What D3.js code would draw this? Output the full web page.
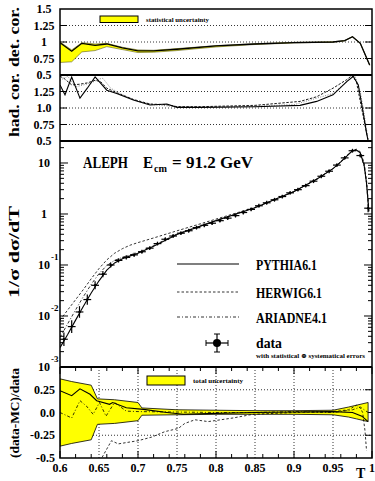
<!DOCTYPE html>
<html>
<head>
<meta charset="utf-8">
<script src="https://cdn.jsdelivr.net/npm/d3@7"></script>
<style>
body{margin:0;background:#fff}
svg{display:block}
text{font-family:"Liberation Serif","Times New Roman","DejaVu Serif",serif;font-weight:bold;fill:#000}
</style>
</head>
<body>
<svg id="chart" width="375" height="481"></svg>
<script>
// measured thrust distribution, bins of 0.01
var dataT = [0.605,0.615,0.625,0.635,0.645,0.655,0.665,0.675,0.685,0.695,
	0.705,0.715,0.725,0.735,0.745,0.755,0.765,0.775,0.785,0.795,
	0.805,0.815,0.825,0.835,0.845,0.855,0.865,0.875,0.885,0.895,
	0.905,0.915,0.925,0.935,0.945,0.955,0.965,0.975,0.985,0.995];
var dataVal = [0.0035,0.0062,0.012,0.021,0.040,0.066,0.100,0.123,0.141,0.158,
	0.182,0.214,0.263,0.32,0.37,0.42,0.47,0.54,0.60,0.66,
	0.74,0.83,0.93,1.07,1.23,1.45,1.66,1.9,2.2,2.6,
	3.0,3.6,4.4,5.5,6.9,9.1,12.6,17.4,14,1.3];
var dataErr = [0.35,0.33,0.30,0.26,0.20,0.15,0.12,0.10,0.10,0.10,
	0.09,0.09,0.09,0.09,0.09,0.09,0.09,0.09,0.09,0.09,
	0.09,0.09,0.09,0.09,0.09,0.09,0.09,0.09,0.09,0.09,
	0.09,0.09,0.09,0.09,0.09,0.09,0.09,0.09,0.09,0.2];

// MC predictions in the main panel
var mcT = [0.6,0.61,0.62,0.63,0.64,0.65,0.66,0.67,0.68,0.69,0.70,0.72,0.75,0.80,0.85,0.90,0.93,0.95,0.96,0.97,0.975,0.98,0.985,0.99,0.993,0.996];
var pythia = [0.0024,0.00437,0.0083,0.0155,0.0282,0.049,0.079,0.110,0.132,0.151,0.170,0.234,0.398,0.741,1.33,2.75,4.9,7.76,10.5,14.8,17.4,18.0,15.8,8.9,4.0,1.12];
var herwig = [0.0083,0.0132,0.0209,0.0331,0.0537,0.0851,0.126,0.170,0.209,0.245,0.275,0.339,0.468,0.794,1.35,2.75,4.9,7.76,10.5,15.1,17.8,18.6,16.6,10,4.5,1.26];
var ariadne = [0.0038,0.0071,0.0132,0.024,0.0417,0.0676,0.098,0.123,0.141,0.158,0.176,0.24,0.407,0.741,1.33,2.75,4.9,7.76,10.5,14.8,17.4,18.2,15.5,8.5,3.8,1.12];

// detector correction
var detT = [0.6,0.615,0.628,0.645,0.66,0.68,0.7,0.72,0.75,0.8,0.85,0.9,0.95,0.965,0.975,0.985,0.997];
var detLine = [0.99,0.86,0.98,0.95,0.97,0.91,0.865,0.865,0.89,0.94,0.97,0.99,1.0,1.02,1.08,0.98,0.65];
var detHi = [1.0,0.88,0.99,0.97,0.98,0.92,0.88,0.875,0.90,0.945,0.975,0.995,1.003,1.023,1.083,0.983,0.653];
var detLo = [0.69,0.70,0.85,0.87,0.93,0.885,0.84,0.845,0.87,0.925,0.962,0.985,0.997,1.017,1.077,0.977,0.647];

// hadronisation correction
var hadPyT = [0.6,0.6064,0.615,0.6256,0.635,0.645,0.66,0.6727,0.694,0.7154,0.737,0.75,0.78,0.85,0.9077,0.929,0.95,0.9676,0.976,0.9824,0.9889,0.993,0.996];
var hadPy = [1.35,1.20,1.47,1.15,1.30,1.47,1.27,1.22,1.12,1.045,1.06,1.01,1.01,1.02,1.04,1.10,1.20,1.40,1.48,1.35,0.92,0.62,0.45];
var hadHwT = [0.6,0.605,0.615,0.625,0.635,0.645,0.652,0.66,0.675,0.694,0.7154,0.737,0.75,0.78,0.85,0.9077,0.929,0.95,0.9676,0.974,0.98,0.985,0.99,0.996];
var hadHw = [1.48,1.45,1.35,1.36,1.38,1.42,1.40,1.30,1.22,1.13,1.06,1.05,1.02,1.02,1.04,1.10,1.17,1.30,1.43,1.49,1.40,1.10,0.80,0.45];
var hadArT = [0.6,0.61,0.62,0.63,0.64,0.65,0.655,0.665,0.68,0.7,0.72,0.75,0.8,0.9,0.95,0.97,0.978,0.985,0.99,0.996];
var hadAr = [1.42,1.48,1.32,1.35,1.38,1.44,1.45,1.30,1.20,1.10,1.05,1.02,1.01,1.05,1.22,1.42,1.49,1.25,0.90,0.45];

// (data-MC)/data
var bandT = [0.6,0.615,0.64,0.648,0.67,0.7,0.705,0.75,0.8,0.85,0.9,0.95,0.97,0.98,0.995];
var bandHi = [0.37,0.34,0.30,0.15,0.14,0.11,0.05,0.03,0.025,0.02,0.02,0.025,0.06,0.08,0.11];
var bandLo = [-0.37,-0.34,-0.30,-0.13,-0.12,-0.09,-0.03,-0.025,-0.02,-0.02,-0.02,-0.025,-0.05,-0.07,-0.10];
var ratPyT = [0.6,0.615,0.6256,0.6385,0.647,0.6635,0.6675,0.685,0.707,0.737,0.758,0.8,0.85,0.9,0.95,0.975,0.987,0.995];
var ratPy = [0.24,0.185,0.26,0.20,0.13,0.09,0.11,0.053,0.034,0.0,-0.02,-0.01,0.0,0.005,0.01,0.0,-0.04,-0.10];
var ratHwT = [0.645,0.6535,0.666,0.6747,0.6855,0.70,0.7176,0.7346,0.7517,0.76,0.773,0.79,0.822,0.847,0.9,0.95,0.97,0.98,0.985,0.988,0.991,0.993];
var ratHw = [-0.62,-0.50,-0.31,-0.345,-0.33,-0.31,-0.27,-0.21,-0.175,-0.12,-0.08,-0.10,-0.06,-0.02,0.0,0.01,0.03,0.08,0.05,0.0,-0.2,-0.42];
var ratArT = [0.6,0.615,0.6256,0.634,0.6425,0.6506,0.659,0.6699,0.685,0.7,0.75,0.8,0.85,0.9,0.95,0.975,0.985,0.995];
var ratAr = [0.0,-0.06,0.13,0.07,-0.02,0.11,-0.04,0.11,0.015,0.01,0.005,0.0,0.0,0.01,0.0,0.03,0.06,0.0];

// tick labels
var detTicks = [1.5,1.25,1,0.75,0.5];
var detTickText = ["1.5","1.25","1","0.75","0.5"];
var hadTicks = [1.25,1.0,0.75,0.5];
var hadTickText = ["1.25","1.0","0.75","0.5"];
var ratTicks = [0.25,0,-0.25,-0.5];
var ratTickText = ["0.25","0.0","-0.25","-0.5"];
var xTicks = [0.6,0.65,0.7,0.75,0.8,0.85,0.9,0.95,1];
var xTickText = ["0.6","0.65","0.7","0.75","0.8","0.85","0.9","0.95","1"];
var mainDecades = [10,1,0.1,0.01,0.001];
var mainBase = ["10","1","10","10","10"];
var mainSup = ["","","-1","-2","-3"];

var svg = d3.select("#chart");
var x = d3.scaleLinear().domain([0.6,1]).range([60,372]);
var yDet = d3.scaleLinear().domain([0.5,1.5]).range([75,9]);
var yHad = d3.scaleLinear().domain([0.5,1.5]).range([141,75]);
var yMain = d3.scaleLog().domain([1e-3,27]).range([367,141]);
var yRat = d3.scaleLinear().domain([-0.5,0.5]).range([458,367]);

var defs = svg.append("defs");
function makeClip(id, y){
	var r = y.range();
	defs.append("clipPath").attr("id", id).append("rect")
		.attr("x", x(0.6)).attr("width", x(1) - x(0.6))
		.attr("y", Math.min(r[0], r[1])).attr("height", Math.abs(r[0] - r[1]));
}
makeClip("cDet", yDet); makeClip("cHad", yHad); makeClip("cMain", yMain); makeClip("cRat", yRat);

function pairs(xs, ys){ return xs.map(function(t, i){ return [t, ys[i]]; }); }
function lineFor(y){ return d3.line().x(function(d){ return x(d[0]); }).y(function(d){ return y(d[1]); }); }
// text squeezed to the width it has in the original
function label(xx, yy, size, txt, len){
	var t = svg.append("text").attr("x", xx).attr("y", yy).attr("font-size", size).text(txt);
	if(len){ t.attr("textLength", len).attr("lengthAdjust", "spacingAndGlyphs"); }
	return t;
}
function hGrid(y, vals){
	svg.append("g").selectAll("line").data(vals).join("line")
		.attr("x1", x(0.6)).attr("x2", x(1))
		.attr("y1", function(d){ return y(d); }).attr("y2", function(d){ return y(d); })
		.attr("stroke", "#000").attr("stroke-width", 0.8).attr("stroke-dasharray", "1,2");
}
function sideTicks(y, vals, len){
	var g = svg.append("g");
	vals.forEach(function(v){
		g.append("line").attr("x1", x(0.6)).attr("x2", x(0.6) + len).attr("y1", y(v)).attr("y2", y(v)).attr("stroke", "#000");
		g.append("line").attr("x1", x(1)).attr("x2", x(1) - len).attr("y1", y(v)).attr("y2", y(v)).attr("stroke", "#000");
	});
}

// ---- det. cor. panel
hGrid(yDet, [1.25,1,0.75]);
sideTicks(yDet, [1.25,1,0.75], 7);
var gDet = svg.append("g").attr("clip-path", "url(#cDet)");
gDet.append("path")
	.attr("d", d3.area().x(function(d){ return x(d[0]); }).y0(function(d){ return yDet(d[2]); }).y1(function(d){ return yDet(d[1]); })(detT.map(function(t, i){ return [t, detHi[i], detLo[i]]; })))
	.attr("fill", "#ffff00").attr("stroke", "#5a5a20").attr("stroke-width", 0.6);
gDet.append("path").attr("d", lineFor(yDet)(pairs(detT, detLine)))
	.attr("fill", "none").attr("stroke", "#000").attr("stroke-width", 1.3);
svg.append("rect").attr("x", 100).attr("y", 16).attr("width", 38).attr("height", 6.5)
	.attr("fill", "#ffff00").attr("stroke", "#000").attr("stroke-width", 1);
label(146, 21.5, 7, "statistical uncertainty", 63);

// ---- had. cor. panel
hGrid(yHad, [1.25,1.0,0.75]);
sideTicks(yHad, [1.25,1.0,0.75], 7);
var gHad = svg.append("g").attr("clip-path", "url(#cHad)");
gHad.append("path").attr("d", lineFor(yHad)(pairs(hadArT, hadAr)))
	.attr("fill", "none").attr("stroke", "#888").attr("stroke-width", 1).attr("stroke-dasharray", "1,1.5");
gHad.append("path").attr("d", lineFor(yHad)(pairs(hadHwT, hadHw)))
	.attr("fill", "none").attr("stroke", "#000").attr("stroke-width", 0.9).attr("stroke-dasharray", "2.5,1.5");
gHad.append("path").attr("d", lineFor(yHad)(pairs(hadPyT, hadPy)))
	.attr("fill", "none").attr("stroke", "#000").attr("stroke-width", 1.1);

// ---- main panel
var logTicks = yMain.ticks();
var gTick = svg.append("g");
logTicks.forEach(function(v){
	var major = Math.abs(Math.log10(v) - Math.round(Math.log10(v))) < 1e-6;
	var len = major ? 8 : 4;
	gTick.append("line").attr("x1", x(0.6)).attr("x2", x(0.6) + len).attr("y1", yMain(v)).attr("y2", yMain(v)).attr("stroke", "#000");
	gTick.append("line").attr("x1", x(1)).attr("x2", x(1) - len).attr("y1", yMain(v)).attr("y2", yMain(v)).attr("stroke", "#000");
});
var gMain = svg.append("g").attr("clip-path", "url(#cMain)");
gMain.append("path").attr("d", lineFor(yMain)(pairs(mcT, ariadne)))
	.attr("fill", "none").attr("stroke", "#000").attr("stroke-width", 0.8).attr("stroke-dasharray", "3,2,1,2");
gMain.append("path").attr("d", lineFor(yMain)(pairs(mcT, herwig)))
	.attr("fill", "none").attr("stroke", "#000").attr("stroke-width", 0.8).attr("stroke-dasharray", "2.5,2");
gMain.append("path").attr("d", lineFor(yMain)(pairs(mcT, pythia)))
	.attr("fill", "none").attr("stroke", "#000").attr("stroke-width", 1.1);
var pts = gMain.append("g").selectAll("g").data(dataT.map(function(t, i){ return {t: t, v: dataVal[i], e: dataErr[i]}; })).join("g");
pts.append("line")
	.attr("x1", function(d){ return x(d.t - 0.005); }).attr("x2", function(d){ return x(d.t + 0.005); })
	.attr("y1", function(d){ return yMain(d.v); }).attr("y2", function(d){ return yMain(d.v); })
	.attr("stroke", "#000").attr("stroke-width", 1.2);
pts.append("line")
	.attr("x1", function(d){ return x(d.t); }).attr("x2", function(d){ return x(d.t); })
	.attr("y1", function(d){ return yMain(d.v * (1 + d.e)); }).attr("y2", function(d){ return yMain(d.v / (1 + d.e)); })
	.attr("stroke", "#000").attr("stroke-width", 1.2);
pts.append("circle").attr("cx", function(d){ return x(d.t); }).attr("cy", function(d){ return yMain(d.v); })
	.attr("r", 1.2).attr("fill", "#000");

// title
label(83, 168, 17.5, "ALEPH", 45);
label(143, 168, 17.5, "E", 10);
label(154, 172, 10.5, "cm", 13);
label(172, 168, 17.5, "= 91.2 GeV", 81);

// legend
var legNames = ["PYTHIA6.1","HERWIG6.1","ARIADNE4.1"];
var legWidth = [61, 66, 71];
var legDash = [null, "2.5,2", "3,2,1,2"];
var legY = [264, 292, 317];
legNames.forEach(function(n, i){
	svg.append("line").attr("x1", 177).attr("x2", 239).attr("y1", legY[i]).attr("y2", legY[i])
		.attr("stroke", "#000").attr("stroke-width", i === 0 ? 1.1 : 0.8).attr("stroke-dasharray", legDash[i]);
	label(256, legY[i] + 5.5, 15, n, legWidth[i]);
});
var lg = svg.append("g");
lg.append("line").attr("x1", 206).attr("x2", 228).attr("y1", 343).attr("y2", 343).attr("stroke", "#000").attr("stroke-width", 1.2);
lg.append("line").attr("x1", 217).attr("x2", 217).attr("y1", 334).attr("y2", 352).attr("stroke", "#000").attr("stroke-width", 1.2);
lg.append("line").attr("x1", 206).attr("x2", 206).attr("y1", 340).attr("y2", 346).attr("stroke", "#000");
lg.append("line").attr("x1", 228).attr("x2", 228).attr("y1", 340).attr("y2", 346).attr("stroke", "#000");
lg.append("line").attr("x1", 214).attr("x2", 220).attr("y1", 334).attr("y2", 334).attr("stroke", "#000");
lg.append("line").attr("x1", 214).attr("x2", 220).attr("y1", 352).attr("y2", 352).attr("stroke", "#000");
lg.append("circle").attr("cx", 217).attr("cy", 343).attr("r", 4).attr("fill", "#000");
label(256, 347.5, 15, "data", 26);
label(256, 358, 6.3, "with statistical \u2295 systematical errors", 109);

// ---- (data-MC)/data panel
hGrid(yRat, [0.25,0,-0.25]);
svg.append("g").selectAll("line").data(xTicks.slice(1, -1)).join("line")
	.attr("x1", function(d){ return x(d); }).attr("x2", function(d){ return x(d); })
	.attr("y1", yRat(0.5)).attr("y2", yRat(-0.5))
	.attr("stroke", "#000").attr("stroke-width", 0.8).attr("stroke-dasharray", "1,2");
sideTicks(yRat, [0.25,0,-0.25], 7);
var gRat = svg.append("g").attr("clip-path", "url(#cRat)");
gRat.append("path")
	.attr("d", d3.area().x(function(d){ return x(d[0]); }).y0(function(d){ return yRat(d[2]); }).y1(function(d){ return yRat(d[1]); })(bandT.map(function(t, i){ return [t, bandHi[i], bandLo[i]]; })))
	.attr("fill", "#ffff00").attr("stroke", "#000").attr("stroke-width", 0.8);
gRat.append("path").attr("d", lineFor(yRat)(pairs(ratArT, ratAr)))
	.attr("fill", "none").attr("stroke", "#000").attr("stroke-width", 0.8).attr("stroke-dasharray", "3,2,1,2");
gRat.append("path").attr("d", lineFor(yRat)(pairs(ratHwT, ratHw)))
	.attr("fill", "none").attr("stroke", "#000").attr("stroke-width", 0.8).attr("stroke-dasharray", "2.5,2");
gRat.append("path").attr("d", lineFor(yRat)(pairs(ratPyT, ratPy)))
	.attr("fill", "none").attr("stroke", "#000").attr("stroke-width", 1.1);
svg.append("rect").attr("x", 147).attr("y", 376).attr("width", 38).attr("height", 9)
	.attr("fill", "#ffff00").attr("stroke", "#000").attr("stroke-width", 1);
label(193, 383, 7, "total uncertainty", 50);

// x ticks on the bottom panel edges
var gx = svg.append("g");
x.ticks(16).forEach(function(t){
	var major = xTicks.some(function(m){ return Math.abs(m - t) < 1e-6; });
	var len = major ? 7 : 4;
	gx.append("line").attr("x1", x(t)).attr("x2", x(t)).attr("y1", yRat(-0.5)).attr("y2", yRat(-0.5) - len).attr("stroke", "#000");
	gx.append("line").attr("x1", x(t)).attr("x2", x(t)).attr("y1", yRat(0.5)).attr("y2", yRat(0.5) + len).attr("stroke", "#000");
});

// frames
svg.append("rect").attr("x", x(0.6)).attr("y", yDet(1.5)).attr("width", x(1) - x(0.6)).attr("height", yRat(-0.5) - yDet(1.5))
	.attr("fill", "none").attr("stroke", "#000").attr("stroke-width", 1.5);
[yDet(0.5), yHad(0.5), yMain(1e-3)].forEach(function(yy){
	svg.append("line").attr("x1", x(0.6)).attr("x2", x(1)).attr("y1", yy).attr("y2", yy).attr("stroke", "#000").attr("stroke-width", 2);
});

// tick labels
function yLabels(y, vals, txt, xx, anchor){
	svg.append("g").selectAll("text").data(vals).join("text")
		.attr("x", xx).attr("y", function(d){ return y(d); }).attr("dy", "0.35em")
		.attr("text-anchor", anchor).attr("font-size", 12)
		.text(function(d, i){ return txt[i]; });
}
yLabels(yDet, detTicks, detTickText, 44, "middle");
yLabels(yHad, hadTicks, hadTickText, 44, "middle");
yLabels(yRat, ratTicks, ratTickText, 55, "end");
mainDecades.forEach(function(v, i){
	svg.append("text").attr("x", 44).attr("y", yMain(v)).attr("dy", "0.35em")
		.attr("text-anchor", "middle").attr("font-size", 12).text(mainBase[i]);
	if(mainSup[i]){
		svg.append("text").attr("x", 51).attr("y", yMain(v) - 5).attr("font-size", 9).text(mainSup[i]);
	}
});
svg.append("g").selectAll("text").data(xTicks).join("text")
	.attr("x", function(d){ return x(d); }).attr("y", 472)
	.attr("text-anchor", "middle").attr("font-size", 12)
	.text(function(d, i){ return xTickText[i]; });
label(356, 478, 14, "T");

// axis titles
function yTitle(txt, cy, size, len){
	svg.append("text").attr("transform", "translate(19," + cy + ") rotate(-90)")
		.attr("text-anchor", "middle").attr("font-size", size)
		.attr("textLength", len).attr("lengthAdjust", "spacingAndGlyphs").text(txt);
}
yTitle("det. cor.", 37, 15, 60);
yTitle("had. cor.", 105, 15, 64);
yTitle("1/\u03c3 d\u03c3/dT", 252, 15, 92);
yTitle("(data-MC)/data", 413, 12.5, 90);
</script>
</body>
</html>
